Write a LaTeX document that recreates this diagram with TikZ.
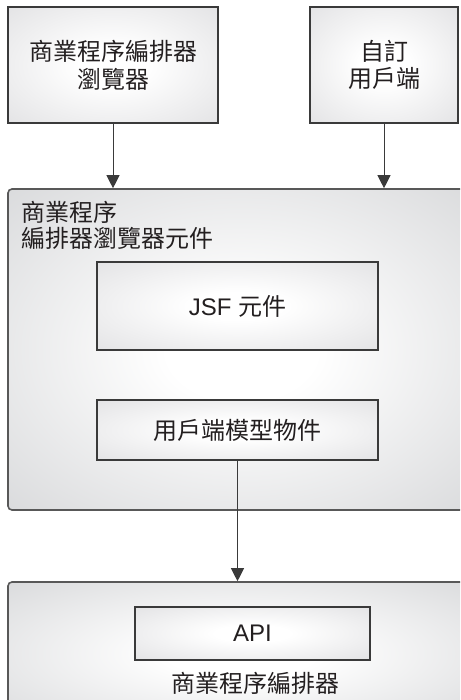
\documentclass[tikz,border=0pt]{standalone}
\usepackage{fontspec}
\setmainfont{Liberation Sans}
\newfontfamily\cjk{Noto Sans CJK TC}
\usetikzlibrary{arrows.meta}
\definecolor{edgegray}{HTML}{D4D5D7}
\definecolor{edgelight}{HTML}{DFDFE1}
\definecolor{linegray}{HTML}{3A3A3A}
\definecolor{txt}{HTML}{231F20}
\pgfdeclareradialshading{softbig}{\pgfpointorigin}{color(0bp)=(white); color(8bp)=(white); color(40bp)=(edgegray); color(60bp)=(edgegray)}
\pgfdeclareradialshading{softsmall}{\pgfpointorigin}{color(0bp)=(white); color(8bp)=(white); color(40bp)=(edgelight); color(60bp)=(edgelight)}
\begin{document}
\begin{tikzpicture}[x=1pt,y=-1pt,
  box/.style={draw=linegray, line width=1.1pt, shading=softsmall, inner sep=0pt, text=txt, font=\fontsize{24}{28}\selectfont, align=center},
  bigbox/.style={draw=linegray!85, line width=1.6pt, rounded corners=4pt, shading=softbig, inner sep=0pt},
  arr/.style={draw=linegray, line width=0.9pt, -{Triangle[width=13pt,length=13pt]}},
  lbl/.style={text=txt, font=\fontsize{24}{26}\selectfont, inner sep=0pt}
]
\useasboundingbox (0,0) rectangle (460,700);
\clip (0,0) rectangle (460,700);
\node[box, minimum width=210pt, minimum height=116pt] (A) at (113,65) {\cjk 商業程序編排器\\[0pt]\cjk 瀏覽器};
\node[box, minimum width=148pt, minimum height=116pt] (B) at (384,65) {\cjk 自訂\\[-1pt]\cjk 用戶端};
\node[bigbox, minimum width=467pt, minimum height=321pt] (big) at (241.5,349.5) {};
\node[lbl, anchor=west, align=left] (title) at (21,225) {\cjk 商業程序\\\cjk 編排器瀏覽器元件};
\node[box, minimum width=281pt, minimum height=88pt] (jsf) at (237.5,306) {JSF {\cjk 元件}};
\node[box, minimum width=281pt, minimum height=60pt] (cm) at (237.5,430) {\cjk 用戶端模型物件};
\node[bigbox, minimum width=467pt, minimum height=143pt] (bot) at (241.5,653.5) {};
\node[box, minimum width=235pt, minimum height=53pt] (api) at (252.5,633.5) {API};
\node[lbl] (botlbl) at (255,683) {\cjk 商業程序編排器};
\draw[arr] (A.south) -- (A.south |- big.north);
\draw[arr] (B.south) -- (B.south |- big.north);
\draw[arr] (cm.south) -- (cm.south |- bot.north);
\end{tikzpicture}
\end{document}
